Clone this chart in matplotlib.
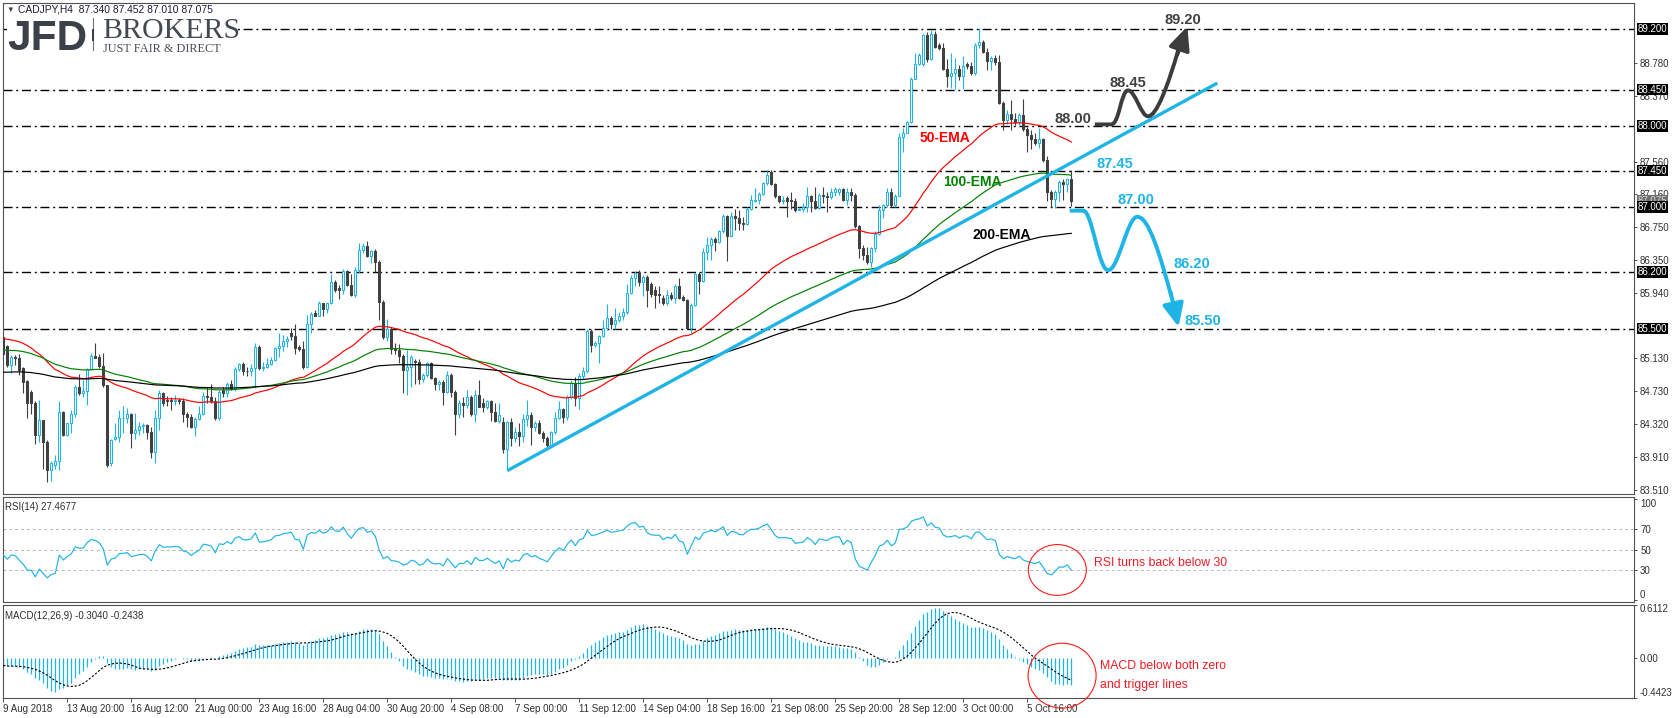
import numpy as np
import matplotlib
matplotlib.use("Agg")
import matplotlib.pyplot as plt
import matplotlib.transforms as mtransforms
from matplotlib.patches import Ellipse, PathPatch, Rectangle
from matplotlib.path import Path
from matplotlib.lines import Line2D

plt.rcParams['font.family'] = ['Liberation Sans', 'DejaVu Sans']

# ---------------- data ----------------
HEADER = "CADJPY,H4  87.340 87.452 87.010 87.075"

OPEN = [
    85.40, 85.28, 85.05, 85.15, 85.13, 85.01, 84.85, 84.72, 84.58, 84.19,
    84.37, 84.10, 83.75, 83.82, 83.87, 84.47, 84.19, 84.33, 84.45, 84.78,
    84.71, 84.73, 85.00, 85.16, 85.15, 85.04, 84.80, 83.84, 84.13, 84.16,
    84.39, 84.40, 84.44, 84.21, 84.25, 84.30, 84.31, 84.22, 83.98, 84.39,
    84.70, 84.62, 84.62, 84.60, 84.62, 84.60, 84.45, 84.41, 84.28, 84.38,
    84.45, 84.67, 84.66, 84.61, 84.39, 84.74, 84.70, 84.82, 84.75, 85.00,
    85.06, 84.98, 84.97, 85.01, 85.27, 85.01, 85.03, 85.06, 85.11, 85.26,
    85.28, 85.35, 85.45, 85.41, 85.27, 85.25, 85.03, 85.56, 85.69, 85.66,
    85.81, 85.74, 85.81, 86.08, 86.00, 85.97, 86.21, 86.04, 85.92, 86.22,
    86.47, 86.52, 86.39, 86.46, 86.32, 85.83, 85.40, 85.49, 85.25, 85.23,
    85.16, 84.99, 85.03, 85.10, 85.09, 84.88, 84.92, 85.07, 84.89, 84.82,
    84.84, 84.72, 84.93, 84.72, 84.44, 84.58, 84.56, 84.65, 84.45, 84.68,
    84.58, 84.53, 84.60, 84.47, 84.36, 84.35, 84.01, 84.35, 84.15, 84.22,
    84.17, 84.38, 84.43, 84.29, 84.33, 84.21, 84.15, 84.06, 84.22, 84.39,
    84.51, 84.41, 84.65, 84.83, 84.64, 84.91, 84.98, 85.47, 85.30, 85.32,
    85.41, 85.51, 85.63, 85.56, 85.61, 85.65, 85.70, 85.94, 86.12, 86.19,
    86.08, 86.14, 86.05, 85.98, 85.93, 85.88, 85.82, 85.91, 85.88, 86.03,
    85.89, 85.85, 85.51, 85.79, 86.17, 86.09, 86.44, 86.53, 86.61, 86.57,
    86.71, 86.89, 86.64, 86.89, 86.87, 86.80, 86.79, 86.98, 87.08, 87.09,
    87.16, 87.30, 87.43, 87.28, 87.13, 87.07, 87.11, 87.09, 87.07, 86.96,
    86.98, 87.00, 87.13, 87.08, 86.99, 87.15, 87.13, 87.12, 87.19, 87.19,
    87.22, 87.09, 87.19, 87.15, 86.76, 86.49, 86.41, 86.32, 86.49, 86.67,
    86.96, 87.02, 87.19, 87.02, 87.13, 87.87, 87.91, 88.05, 88.58, 88.77,
    88.76, 89.12, 88.83, 89.14, 89.00, 88.96, 88.70, 88.62, 88.65, 88.71,
    88.62, 88.76, 88.74, 88.65, 89.00, 89.04, 88.92, 88.80, 88.84, 88.79,
    88.28, 88.07, 88.15, 88.09, 88.05, 88.13, 87.96, 87.89, 87.84, 87.79,
    87.84, 87.58, 87.19, 87.10, 87.19, 87.31, 87.29, 87.340]

HIGH = [
    85.42, 85.30, 85.17, 85.17, 85.19, 85.03, 84.86, 84.74, 84.60, 84.62,
    84.37, 84.12, 83.86, 83.94, 84.60, 84.48, 84.33, 84.49, 84.80, 84.94,
    84.86, 85.01, 85.20, 85.32, 85.19, 85.20, 84.80, 84.14, 84.33, 84.49,
    84.54, 84.52, 84.46, 84.46, 84.34, 84.33, 84.32, 84.29, 84.50, 84.74,
    84.72, 84.67, 84.66, 84.68, 84.64, 84.64, 84.47, 84.45, 84.41, 84.54,
    84.72, 84.78, 84.82, 84.66, 84.74, 84.78, 84.84, 84.86, 85.03, 85.08,
    85.09, 85.03, 85.06, 85.32, 85.30, 85.09, 85.14, 85.15, 85.27, 85.44,
    85.42, 85.41, 85.51, 85.56, 85.30, 85.35, 85.67, 85.71, 85.73, 85.84,
    85.82, 85.82, 86.17, 86.10, 86.04, 86.23, 86.22, 86.17, 86.26, 86.55,
    86.56, 86.58, 86.47, 86.48, 86.35, 85.85, 85.62, 85.52, 85.32, 85.31,
    85.19, 85.23, 85.17, 85.12, 85.12, 84.95, 85.09, 85.09, 84.90, 84.86,
    84.86, 84.98, 84.95, 84.74, 84.62, 84.65, 84.74, 84.68, 84.74, 84.87,
    84.64, 84.62, 84.62, 84.58, 84.58, 84.41, 84.36, 84.40, 84.28, 84.33,
    84.44, 84.62, 84.47, 84.36, 84.37, 84.24, 84.17, 84.24, 84.47, 84.60,
    84.52, 84.68, 84.87, 84.90, 84.95, 85.03, 85.50, 85.50, 85.34, 85.42,
    85.61, 85.80, 85.65, 85.75, 85.70, 85.75, 86.05, 86.16, 86.21, 86.22,
    86.16, 86.16, 86.07, 86.02, 86.02, 85.91, 85.97, 85.95, 86.05, 86.12,
    85.91, 85.87, 85.81, 86.18, 86.20, 86.49, 86.63, 86.63, 86.63, 86.72,
    86.91, 86.90, 86.94, 86.97, 86.96, 86.88, 87.00, 87.15, 87.24, 87.19,
    87.31, 87.44, 87.46, 87.30, 87.15, 87.14, 87.13, 87.19, 87.11, 87.00,
    87.05, 87.25, 87.15, 87.25, 87.17, 87.25, 87.19, 87.24, 87.25, 87.23,
    87.24, 87.23, 87.24, 87.17, 86.78, 86.53, 86.51, 86.51, 86.70, 87.02,
    87.04, 87.23, 87.24, 87.16, 87.91, 87.97, 88.06, 88.60, 88.90, 88.90,
    89.14, 89.16, 89.18, 89.17, 89.02, 89.02, 88.83, 88.90, 88.84, 88.75,
    88.86, 88.79, 88.79, 89.02, 89.21, 89.06, 88.96, 88.86, 88.88, 88.88,
    88.31, 88.20, 88.32, 88.16, 88.16, 88.33, 87.99, 87.95, 87.91, 87.97,
    87.85, 87.63, 87.21, 87.21, 87.33, 87.35, 87.36, 87.452]

LOW = [
    85.19, 85.03, 84.95, 85.05, 84.93, 84.70, 84.39, 84.45, 84.08, 84.10,
    83.77, 83.60, 83.62, 83.77, 83.75, 84.17, 84.17, 84.21, 84.41, 84.68,
    84.66, 84.56, 84.99, 85.13, 85.01, 84.78, 83.79, 83.80, 84.12, 84.10,
    84.21, 84.33, 84.02, 84.14, 84.19, 84.21, 84.14, 83.90, 83.84, 84.25,
    84.54, 84.54, 84.50, 84.56, 84.57, 84.35, 84.29, 84.27, 84.17, 84.37,
    84.43, 84.58, 84.58, 84.37, 84.37, 84.66, 84.66, 84.74, 84.73, 84.98,
    84.93, 84.91, 84.91, 84.76, 84.99, 84.97, 85.01, 85.05, 85.10, 85.15,
    85.22, 85.27, 85.36, 85.18, 85.22, 85.00, 85.01, 85.45, 85.65, 85.65,
    85.65, 85.69, 85.80, 85.95, 85.87, 85.93, 86.02, 85.90, 85.89, 86.18,
    86.43, 86.38, 86.31, 86.20, 85.61, 85.37, 85.34, 85.19, 85.19, 85.07,
    84.70, 84.68, 84.78, 84.82, 84.81, 84.84, 84.90, 84.88, 84.74, 84.74,
    84.56, 84.70, 84.66, 84.19, 84.39, 84.41, 84.52, 84.42, 84.34, 84.53,
    84.47, 84.51, 84.36, 84.35, 84.33, 83.96, 83.75, 84.05, 84.10, 84.05,
    84.10, 84.30, 84.06, 84.23, 84.20, 84.10, 84.02, 84.05, 84.20, 84.38,
    84.33, 84.37, 84.63, 84.54, 84.51, 84.88, 84.95, 85.21, 85.27, 85.07,
    85.40, 85.48, 85.49, 85.49, 85.58, 85.60, 85.68, 85.93, 86.03, 86.02,
    85.90, 85.76, 85.89, 85.75, 85.81, 85.79, 85.79, 85.85, 85.81, 85.86,
    85.84, 85.50, 85.44, 85.78, 85.93, 86.08, 86.35, 86.35, 86.46, 86.56,
    86.68, 86.33, 86.64, 86.72, 86.72, 86.72, 86.78, 86.96, 87.06, 87.04,
    87.15, 87.27, 87.27, 87.11, 87.05, 87.04, 86.88, 86.98, 86.94, 86.96,
    86.94, 86.94, 86.94, 86.98, 86.98, 87.05, 86.94, 87.10, 87.13, 87.15,
    87.07, 87.02, 87.07, 86.74, 86.37, 86.35, 86.30, 86.26, 86.45, 86.65,
    86.86, 87.00, 87.00, 87.00, 87.13, 87.68, 87.91, 88.04, 88.58, 88.75,
    88.74, 88.79, 88.81, 88.96, 88.94, 88.69, 88.48, 88.47, 88.46, 88.57,
    88.46, 88.71, 88.63, 88.63, 88.96, 88.90, 88.69, 88.69, 88.75, 88.27,
    87.95, 88.02, 87.95, 88.01, 88.01, 87.94, 87.68, 87.72, 87.76, 87.73,
    87.56, 87.07, 87.00, 86.99, 87.07, 87.09, 87.19, 87.010]

CLOSE = [
    85.19, 85.05, 85.15, 85.13, 84.99, 84.84, 84.58, 84.58, 84.19, 84.37,
    84.10, 83.75, 83.84, 83.87, 84.47, 84.19, 84.33, 84.45, 84.78, 84.71,
    84.73, 85.00, 85.16, 85.13, 85.04, 84.80, 83.82, 84.12, 84.16, 84.39,
    84.40, 84.44, 84.21, 84.25, 84.30, 84.31, 84.22, 83.98, 84.39, 84.70,
    84.58, 84.60, 84.60, 84.62, 84.60, 84.45, 84.41, 84.28, 84.38, 84.45,
    84.67, 84.65, 84.61, 84.39, 84.72, 84.70, 84.82, 84.75, 85.00, 85.06,
    84.97, 84.97, 85.01, 85.27, 85.01, 85.03, 85.06, 85.11, 85.26, 85.28,
    85.35, 85.37, 85.41, 85.26, 85.25, 85.03, 85.56, 85.68, 85.66, 85.81,
    85.74, 85.81, 86.08, 85.98, 85.97, 86.21, 86.04, 85.92, 86.22, 86.47,
    86.52, 86.39, 86.46, 86.32, 85.83, 85.40, 85.49, 85.25, 85.23, 85.16,
    84.99, 85.03, 85.15, 85.09, 84.88, 84.92, 85.07, 84.89, 84.82, 84.84,
    84.72, 84.93, 84.72, 84.44, 84.58, 84.56, 84.65, 84.45, 84.68, 84.53,
    84.53, 84.60, 84.47, 84.36, 84.43, 84.01, 84.35, 84.15, 84.22, 84.17,
    84.38, 84.43, 84.29, 84.33, 84.21, 84.15, 84.06, 84.22, 84.39, 84.51,
    84.41, 84.65, 84.83, 84.64, 84.91, 84.98, 85.47, 85.30, 85.32, 85.41,
    85.51, 85.63, 85.56, 85.61, 85.65, 85.70, 85.94, 86.12, 86.19, 86.08,
    86.14, 85.98, 85.93, 85.92, 85.92, 85.82, 85.91, 85.88, 86.03, 85.88,
    85.85, 85.51, 85.79, 86.17, 86.09, 86.44, 86.53, 86.61, 86.57, 86.71,
    86.89, 86.64, 86.89, 86.87, 86.80, 86.79, 86.98, 87.09, 87.09, 87.16,
    87.30, 87.40, 87.28, 87.13, 87.07, 87.09, 87.08, 87.07, 86.96, 86.98,
    87.00, 87.13, 87.08, 86.99, 87.15, 87.13, 87.12, 87.19, 87.22, 87.22,
    87.09, 87.19, 87.15, 86.76, 86.49, 86.41, 86.32, 86.49, 86.67, 86.96,
    87.02, 87.19, 87.02, 87.13, 87.87, 87.91, 88.05, 88.58, 88.77, 88.88,
    89.12, 88.83, 89.14, 88.98, 88.96, 88.70, 88.62, 88.65, 88.71, 88.62,
    88.74, 88.74, 88.65, 89.00, 89.04, 88.92, 88.80, 88.84, 88.79, 88.28,
    88.07, 88.15, 88.09, 88.05, 88.13, 87.96, 87.89, 87.84, 87.79, 87.84,
    87.58, 87.19, 87.10, 87.19, 87.31, 87.29, 87.35, 87.075]

DATE_LABELS = ["9 Aug 2018", "13 Aug 20:00", "16 Aug 12:00", "21 Aug 00:00",
               "23 Aug 16:00", "28 Aug 04:00", "30 Aug 20:00", "4 Sep 08:00",
               "7 Sep 00:00", "11 Sep 12:00", "14 Sep 04:00", "18 Sep 16:00",
               "21 Sep 08:00", "25 Sep 20:00", "28 Sep 12:00", "3 Oct 00:00",
               "5 Oct 16:00"]
DATE_LABEL_BARS = [0, 16, 32, 48, 64, 80, 96, 112, 128, 144, 160, 176, 192,
                   208, 224, 240, 256]

LEVELS = [89.20, 88.45, 88.00, 87.45, 87.00, 86.20, 85.50]
LEVEL_LABELS = ["89.200", "88.450", "88.000", "87.450", "87.000", "86.200", "85.500"]
PRICE_TICKS = [88.78, 88.37, 87.56, 87.16, 86.75, 86.35, 85.94,
               85.13, 84.73, 84.32, 83.91, 83.51]
LAST_PRICE = 87.075

EMA_PERIODS = [50, 100, 200]
EMA_START = [85.38, 85.235, 84.96]        # values read at the first bar
EMA_COLORS = ["#ff0000", "#008000", "#000000"]
EMA_TEXT = ["50-EMA", "100-EMA", "200-EMA"]
EMA_TEXT_X = [229.0, 234.9, 242.2]
EMA_TEXT_Y = [87.85, 87.31, 86.65]

RSI_PERIOD = 14
RSI_START_GAIN, RSI_START_LOSS = 0.045, 0.055
RSI_LEVELS = [70, 50, 30]
MACD_FAST, MACD_SLOW, MACD_SIGNAL = 12, 26, 9
MACD_START_FAST, MACD_START_SLOW = 85.25, 85.33
RSI_TITLE = "RSI(14) 27.4677"
MACD_TITLE = "MACD(12,26,9) -0.3040 -0.2438"

TREND_X = [126, 303.5]
TREND_Y = [83.745, 88.53]

BULL_PATH_X = [272.9, 277.0, 279.0, 279.4, 281.2, 283.0, 284.4, 286.2, 288.3, 291.2, 293.8]
BULL_PATH_Y = [88.02, 88.02, 88.02, 88.44, 88.44, 88.44, 88.12, 88.12, 88.12, 88.50, 88.95]
BULL_HEAD = [(293.5, 88.88), (296.0, 89.23)]
BEAR_PATH_X = [266.6, 270.0, 272.2, 273.8, 276.2, 278.8, 281.0, 283.5, 286.4, 289.2, 292.0]
BEAR_PATH_Y = [86.955, 86.955, 86.955, 86.22, 86.22, 86.22, 86.88, 86.88, 86.88, 86.40, 85.90]
BEAR_HEAD = [(291.8, 85.95), (293.8, 85.52)]

SCEN_TEXT = ["88.00", "88.45", "89.20", "87.45", "87.00", "86.20", "85.50"]
SCEN_X = [262.9, 276.6, 290.2, 273.4, 278.6, 292.6, 295.4]
SCEN_Y = [88.085, 88.53, 89.31, 87.53, 87.085, 86.30, 85.59]
SCEN_COLOR = ["#404040", "#404040", "#404040", "#1eb4e6", "#1eb4e6", "#1eb4e6", "#1eb4e6"]

RSI_NOTE = "RSI turns back below 30"
RSI_NOTE_XY = (272.8, 37.3)
RSI_CIRCLE = (263.5, 30.0, 14.5, 50.0)
MACD_NOTE = ["MACD below both zero", "and trigger lines"]
MACD_NOTE_X = 274.2
MACD_NOTE_Y = [-0.087, -0.30]
MACD_CIRCLE = (264.7, -0.195, 17.0, 0.735)

# ---------------- style ----------------
CYAN = "#1eb4e6"
DARK = "#404040"
FRAME = "#505050"
W, H = 1674, 718

fig = plt.figure(figsize=(W / 100, H / 100), dpi=100)
fig.patch.set_facecolor("white")


def rect(x0, y0, x1, y1):
    return [x0 / W, 1 - y1 / H, (x1 - x0) / W, (y1 - y0) / H]


ax = fig.add_axes(rect(2.5, 2.5, 1634.5, 494))
ax_rsi = fig.add_axes(rect(2.5, 497, 1634.5, 602))
ax_macd = fig.add_axes(rect(2.5, 604.5, 1634.5, 697.5))

XMIN, XMAX = -0.2, 407.8
n = len(CLOSE)
X = np.arange(n)
O = np.array(OPEN); Hh = np.array(HIGH); Ll = np.array(LOW); C = np.array(CLOSE)

for a in (ax, ax_rsi, ax_macd):
    a.set_xlim(XMIN, XMAX)
    for s in a.spines.values():
        s.set_color(FRAME)
        s.set_linewidth(0.8)
    a.yaxis.tick_right()
    a.tick_params(axis='y', direction='out', length=2.5, width=0.7, color=FRAME,
                  labelsize=7, labelcolor="#303030", pad=1.5)
    a.set_facecolor("white")

ax.set_ylim(83.457, 89.525)

# level lines
for lv in LEVELS:
    ax.axhline(lv, color="black", lw=1.0, ls=(0, (6.5, 2.7, 1.4, 2.7)), zorder=1)

# candles
up = C >= O
ax.vlines(X[up], Ll[up], Hh[up], color=CYAN, lw=0.8, zorder=2)
ax.vlines(X[~up], Ll[~up], Hh[~up], color=DARK, lw=0.8, zorder=2)
body_lo = np.minimum(O, C)
body_h = np.maximum(np.abs(C - O), 0.004)
ax.bar(X[up], body_h[up], bottom=body_lo[up], width=0.5, facecolor="white",
       edgecolor=CYAN, linewidth=0.75, zorder=3)
ax.bar(X[~up], body_h[~up], bottom=body_lo[~up], width=0.5, facecolor=DARK,
       edgecolor=DARK, linewidth=0.75, zorder=3)


def ema(vals, period, start):
    k = 2.0 / (period + 1)
    out = [start]
    for v in vals[1:]:
        out.append(out[-1] + k * (v - out[-1]))
    return np.array(out)


for p, s0, col in zip(EMA_PERIODS, EMA_START, EMA_COLORS):
    ax.plot(X, ema(C, p, s0), color=col, lw=0.85, zorder=4)

for t, tx, ty, col in zip(EMA_TEXT, EMA_TEXT_X, EMA_TEXT_Y, EMA_COLORS):
    ax.text(tx, ty, t, color=col, fontsize=10, fontweight='bold', ha='left',
            va='center', zorder=7)

# trend line
ax.plot(TREND_X, TREND_Y, color=CYAN, lw=2.4, zorder=5, solid_capstyle='butt')

# scenario paths
codes = [Path.MOVETO, Path.LINETO] + [Path.CURVE4] * 9
for px, py, head, col in ((BULL_PATH_X, BULL_PATH_Y, BULL_HEAD, "#3c3c3c"),
                          (BEAR_PATH_X, BEAR_PATH_Y, BEAR_HEAD, CYAN)):
    path = Path(np.column_stack([px, py]), codes)
    ax.add_patch(PathPatch(path, fill=False, edgecolor=col, lw=2.8,
                           capstyle='butt', joinstyle='round', zorder=6, clip_on=False))
    ax.annotate("", xy=head[1], xytext=head[0],
                arrowprops=dict(arrowstyle="-|>,head_length=0.7,head_width=0.32",
                                color=col, lw=2.8, mutation_scale=20,
                                shrinkA=0, shrinkB=0), zorder=6)

for t, tx, ty, col in zip(SCEN_TEXT, SCEN_X, SCEN_Y, SCEN_COLOR):
    ax.text(tx, ty, t, color=col, fontsize=10.5, fontweight='bold', ha='left',
            va='center', zorder=7)

# right price axis
ax.set_yticks(PRICE_TICKS)
ax.set_yticklabels(["%.3f" % v for v in PRICE_TICKS])
ax.set_xticks([])
trans_r = mtransforms.offset_copy(ax.get_yaxis_transform(), fig=fig, x=3, y=0, units='dots')
ax.text(1.0, LAST_PRICE, "%.3f" % LAST_PRICE, transform=trans_r, ha='left', va='center',
        fontsize=7, color="#d8d8d8", zorder=8, clip_on=False,
        bbox=dict(boxstyle='square,pad=0.08', fc="#6e6e6e", ec='none'))
for lv, lab in zip(LEVELS, LEVEL_LABELS):
    ax.text(1.0, lv, lab, transform=trans_r, ha='left', va='center', fontsize=7,
            color='white', zorder=9, clip_on=False,
            bbox=dict(boxstyle='square,pad=0.08', fc='black', ec='none'))

# header + logo
fig.text(6 / W, 1 - 10 / H, "\u25bc", fontsize=5.5, color="#404040", va='center', ha='left')
fig.text(18 / W, 1 - 10 / H, HEADER, fontsize=7.4, color="#1c1c3a", va='center', ha='left')
fig.add_artist(Rectangle((7 / W, 1 - 55 / H), (238 - 7) / W, (55 - 15) / H,
                         transform=fig.transFigure, fc='white', ec='none', zorder=2))
fig.text(7 / W, 1 - 50 / H, "JFD", fontsize=30.5, fontweight='bold', color="#3b4049",
         va='baseline', ha='left', zorder=3)
fig.add_artist(Line2D([93 / W, 93 / W], [1 - 18 / H, 1 - 50 / H], transform=fig.transFigure,
                      color="#70757d", lw=0.8, zorder=3))
fig.add_artist(Rectangle((91.8 / W, 1 - 41 / H), 2.6 / W, 12 / H, transform=fig.transFigure,
                         fc="#3b4049", ec='none', zorder=3))
fig.text(102 / W, 1 - 38 / H, "BROKERS", fontsize=21.5, family='Liberation Serif',
         color="#454a52", va='baseline', ha='left', zorder=3)
fig.text(103 / W, 1 - 51.5 / H, "JUST FAIR & DIRECT", fontsize=8.8, family='Liberation Serif',
         color="#4a4f57", va='baseline', ha='left', zorder=3)

# ---------------- RSI ----------------
ag, al = RSI_START_GAIN, RSI_START_LOSS
rsi = [100 * ag / (ag + al)]
for i in range(1, n):
    d = C[i] - C[i - 1]
    ag = (ag * (RSI_PERIOD - 1) + max(d, 0)) / RSI_PERIOD
    al = (al * (RSI_PERIOD - 1) + max(-d, 0)) / RSI_PERIOD
    rsi.append(100 * ag / (ag + al))
ax_rsi.set_ylim(-1.5, 101.8)
for lv in RSI_LEVELS:
    ax_rsi.axhline(lv, color="#b8b8b8", lw=0.7, ls=(0, (3, 3)), zorder=1)
ax_rsi.plot(X, rsi, color=CYAN, lw=0.85, zorder=3)
ax_rsi.set_yticks([100, 70, 50, 30, 0])
ax_rsi.set_yticklabels(["100", "70", "50", "30", "0"])
labs = ax_rsi.get_yticklabels()
labs[0].set_verticalalignment('top')
labs[-1].set_verticalalignment('bottom')
ax_rsi.set_xticks([])
ax_rsi.text(0.0015, 0.955, RSI_TITLE, transform=ax_rsi.transAxes, fontsize=7,
            color="#303030", ha='left', va='top')
ax_rsi.add_patch(Ellipse(RSI_CIRCLE[:2], RSI_CIRCLE[2], RSI_CIRCLE[3], fill=False,
                         ec="#ff1a1a", lw=0.8, zorder=5, clip_on=False))
ax_rsi.text(RSI_NOTE_XY[0], RSI_NOTE_XY[1], RSI_NOTE, color="#ee1c25", fontsize=8.8,
            ha='left', va='center', zorder=6)

# ---------------- MACD ----------------
macd = ema(C, MACD_FAST, MACD_START_FAST) - ema(C, MACD_SLOW, MACD_START_SLOW)
signal = np.array([macd[max(0, i - MACD_SIGNAL + 1):i + 1].mean() for i in range(n)])
ax_macd.set_ylim(-0.4423, 0.6112)
ax_macd.vlines(X, 0, macd, color=CYAN, lw=0.9, zorder=2)
ax_macd.plot(X, signal, color="black", lw=0.8, ls=(0, (2, 1.6)), zorder=3)
ax_macd.set_yticks([0.6112, 0.0, -0.4423])
ax_macd.set_yticklabels(["0.6112", "0.00", "-0.4423"])
labs = ax_macd.get_yticklabels()
labs[0].set_verticalalignment('top')
labs[-1].set_verticalalignment('bottom')
ax_macd.text(0.0015, 0.93, MACD_TITLE, transform=ax_macd.transAxes, fontsize=7,
             color="#303030", ha='left', va='top')
ax_macd.add_patch(Ellipse(MACD_CIRCLE[:2], MACD_CIRCLE[2], MACD_CIRCLE[3], fill=False,
                          ec="#ff1a1a", lw=0.8, zorder=5, clip_on=False))
for t, ty in zip(MACD_NOTE, MACD_NOTE_Y):
    ax_macd.text(MACD_NOTE_X, ty, t, color="#ee1c25", fontsize=8.8, ha='left',
                 va='center', zorder=6)

ax_macd.set_xticks(DATE_LABEL_BARS)
ax_macd.set_xticklabels(DATE_LABELS, ha='left')
ax_macd.tick_params(axis='x', direction='out', length=3, width=0.7, color=FRAME,
                    labelsize=7, labelcolor="#303030", pad=1.5)

fig.savefig("out.png", dpi=100)
